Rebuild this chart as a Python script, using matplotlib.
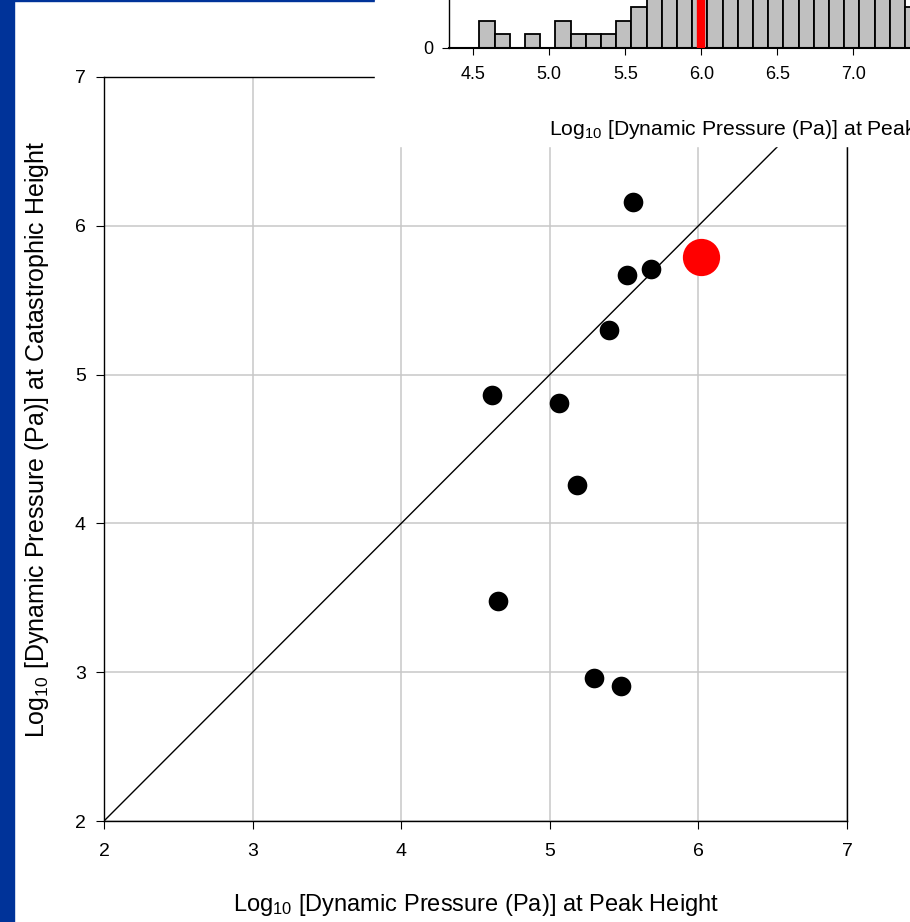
import numpy as np
import matplotlib.pyplot as plt
from matplotlib.patches import Rectangle

plt.rcParams['font.family'] = ['Liberation Sans', 'DejaVu Sans']
plt.rcParams['mathtext.fontset'] = 'custom'
plt.rcParams['mathtext.rm'] = 'Liberation Sans'
plt.rcParams['mathtext.it'] = 'Liberation Sans:italic'

# scatter: log10 dynamic pressure at peak height vs. at catastrophic height
peak_q = [5.56, 5.52, 5.68, 5.40, 4.61, 5.06, 5.18, 4.65, 5.30, 5.48]
cat_q = [6.16, 5.67, 5.71, 5.30, 4.86, 4.81, 4.26, 3.48, 2.96, 2.91]
event_peak = 6.02
event_cat = 5.79

# histogram in the inset (upper bins are cut off by the figure edge)
hist_start = 4.54
hist_width = 0.1
hist_counts = [2, 1, 0, 1, 0, 2, 1, 1, 1, 2, 3,
               5, 7, 8, 10, 12, 13, 14, 13, 12, 11, 9, 8, 7, 6, 5, 4, 4,
               3, 2, 1]
hist_marker = 6.0

W, H = 910, 922
fig = plt.figure(figsize=(W / 100, H / 100), dpi=100)

# blue slide decoration
fig.patches.append(Rectangle((0, 0), 14 / W, 1, transform=fig.transFigure,
                             color='#003399', zorder=1))
fig.patches.append(Rectangle((0, 1 - 1.5 / H), 1, 1.5 / H, transform=fig.transFigure,
                             color='#003399', zorder=1))
# white box under the inset
fig.patches.append(Rectangle((375 / W, 1 - 146 / H), 1, 146 / H,
                             transform=fig.transFigure, color='white', zorder=2))

ax = fig.add_axes([104 / W, 1 - 821 / H, 743 / W, 744 / H])
ax.set_zorder(0)
ax.set_xlim(2, 7)
ax.set_ylim(2, 7)
ax.grid(True, color='#c8c8c8', lw=1.1)
ax.set_axisbelow(True)
ax.plot([2, 7], [2, 7], color='black', lw=1)
ax.scatter(peak_q, cat_q, s=200, color='black', lw=0, zorder=3)
ax.scatter([event_peak], [event_cat], s=720, color='red', lw=0, zorder=4)
for sp in ax.spines.values():
    sp.set_linewidth(1)
ax.tick_params(direction='out', length=6, width=0.8, labelsize=14)
ax.tick_params(axis='x', pad=10)
ax.tick_params(axis='y', pad=7)
ax.set_xticks(range(2, 8))
ax.set_yticks(range(2, 8))
ax.set_xlabel('Log$_{10}$ [Dynamic Pressure (Pa)] at Peak Height', fontsize=17)
ax.set_ylabel('Log$_{10}$ [Dynamic Pressure (Pa)] at Catastrophic Height', fontsize=18)
ax.xaxis.set_label_coords(0.5, -0.095)
ax.yaxis.set_label_coords(-0.072, 0.513)

# inset histogram
ins = fig.add_axes([449 / W, 1 - 48 / H, 617 / W, 200 / H])
ins.set_zorder(3)
edges = hist_start + hist_width * np.arange(len(hist_counts) + 1)
ins.bar(edges[:-1], hist_counts, width=hist_width, align='edge',
        color='#c0c0c0', edgecolor='black', lw=1.3)
ins.axvline(hist_marker, color='red', lw=6, zorder=5)
ins.set_xlim(4.34, 8.4)
ins.set_ylim(0, 14.7)
ins.set_xticks(np.arange(4.5, 8.01, 0.5))
ins.set_xticklabels(['%.1f' % v for v in np.arange(4.5, 8.01, 0.5)])
ins.set_yticks([0, 5, 10])
ins.spines['top'].set_visible(False)
ins.spines['right'].set_visible(False)
ins.spines['bottom'].set_linewidth(1.5)
ins.spines['left'].set_linewidth(1)
ins.tick_params(direction='out', length=5, width=0.8, labelsize=13)
ins.tick_params(axis='x', pad=8)
ins.tick_params(axis='y', pad=6)
ins.set_xlabel('Log$_{10}$ [Dynamic Pressure (Pa)] at Peak Height', fontsize=15.2)
ins.xaxis.set_label_coords(0.515, -0.35)

fig.savefig('out.png', dpi=100)
